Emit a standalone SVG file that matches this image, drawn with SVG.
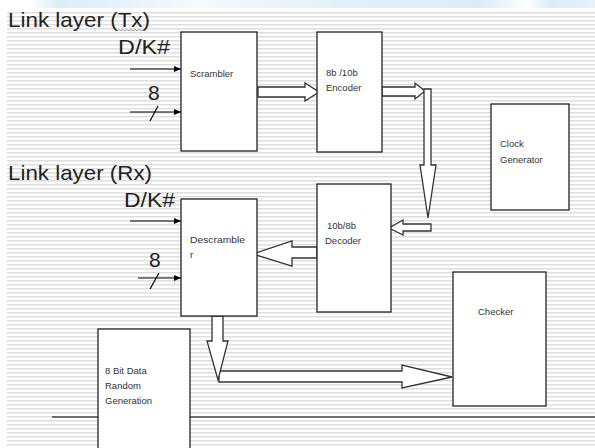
<svg xmlns="http://www.w3.org/2000/svg" width="595" height="448" viewBox="0 0 595 448">
<defs>
<pattern id="rules" width="4" height="4" patternUnits="userSpaceOnUse">
<rect x="0" y="0" width="4" height="1.5" fill="#dedede"/>
</pattern>
<linearGradient id="band" x1="0" y1="0" x2="1" y2="0">
<stop offset="0" stop-color="#ffffff"/>
<stop offset="0.05" stop-color="#dcecf7"/>
<stop offset="0.15" stop-color="#e6f1f9"/>
<stop offset="0.3" stop-color="#f6fafd"/>
<stop offset="0.55" stop-color="#e3eff8"/>
<stop offset="0.8" stop-color="#dcecf7"/>
<stop offset="0.88" stop-color="#ffffff"/>
<stop offset="0.92" stop-color="#dcecf7"/>
<stop offset="1" stop-color="#e6f1f9"/>
</linearGradient>
<marker id="ah" markerWidth="8" markerHeight="8" refX="7" refY="4" orient="auto" markerUnits="userSpaceOnUse">
<path d="M0,1 L7,4 L0,7 z" fill="#000"/>
</marker>
<style>
.box{fill:#fff;stroke:#222;stroke-width:1.3}
.blk{fill:#fff;stroke:#333;stroke-width:1.3;stroke-linejoin:miter}
.big{font-family:"Liberation Sans",Arial,sans-serif;font-size:21px;fill:#222}
.lbl{font-family:"Liberation Sans",Arial,sans-serif;font-size:9.5px;fill:#333}
.in{stroke:#000;stroke-width:1.2;fill:none}
</style>
</defs>
<rect x="0" y="0" width="595" height="448" fill="#fff"/>
<rect x="30" y="0" width="565" height="8" fill="url(#band)"/>
<rect x="7" y="11" width="588" height="437" fill="url(#rules)"/>

<line x1="52" y1="417" x2="595" y2="417" stroke="#444" stroke-width="1.3"/>

<g id="labels-tx">
<text class="big" x="8" y="27" textLength="142" lengthAdjust="spacingAndGlyphs">Link layer (Tx)</text>
<path d="M117,31 l2,-1.5 l2,1.5 l2,-1.5 l2,1.5 l2,-1.5 l2,1.5 l2,-1.5 l2,1.5 l2,-1.5 l2,1.5 l2,-1.5 l2,1.5 l2,-1.5 l2,1.5" fill="none" stroke="#8a8a9a" stroke-width="0.8"/>
<text class="big" x="118" y="54" textLength="52" lengthAdjust="spacingAndGlyphs">D/K#</text>
<text class="big" x="148" y="100">8</text>
</g>
<g id="labels-rx">
<text class="big" x="8" y="180" textLength="144" lengthAdjust="spacingAndGlyphs">Link layer (Rx)</text>
<text class="big" x="124" y="207" textLength="51" lengthAdjust="spacingAndGlyphs">D/K#</text>
<text class="big" x="149" y="267">8</text>
</g>

<g id="connectors">
<line class="in" x1="130" y1="69" x2="181" y2="69" marker-end="url(#ah)"/>
<line class="in" x1="130" y1="112" x2="181" y2="112" marker-end="url(#ah)"/>
<line class="in" x1="150" y1="121" x2="158" y2="106"/>
<line class="in" x1="130" y1="221" x2="181" y2="221" marker-end="url(#ah)"/>
<line class="in" x1="138" y1="278" x2="181" y2="278" marker-end="url(#ah)"/>
<line class="in" x1="150" y1="289" x2="159" y2="273"/>
<polygon class="blk" points="258,87 305,87 305,83 319,92 305,101 305,97 258,97"/>
<polygon class="blk" points="382,87 415,87 415,83 425,91 415,99 415,96 382,96"/>
<polygon class="blk" points="424,89 431,89 431,165 436,165 428,218 420,165 424,165"/>
<polygon class="blk" points="431,224 431,231 403,231 403,235 389,228 403,220 403,224"/>
<polygon class="blk" points="317,247 317,258 292,258 292,266 253,254 292,241 292,247"/>
<polygon class="blk" points="219,371 402,371 402,365 452,377 402,388 402,382 219,382"/>
<polygon class="blk" points="212,316 223,316 223,341 228,341 218,380 207,341 212,341"/>
</g>

<g id="scrambler">
<rect class="box" x="181" y="32" width="76" height="119"/>
<text class="lbl" x="190" y="77">Scrambler</text>
</g>
<g id="encoder">
<rect class="box" x="317" y="32" width="65" height="120"/>
<text class="lbl" x="326" y="76">8b /10b</text>
<text class="lbl" x="326" y="91">Encoder</text>
</g>
<g id="clock">
<rect class="box" x="491" y="104" width="78" height="106"/>
<text class="lbl" x="500" y="147">Clock</text>
<text class="lbl" x="500" y="163">Generator</text>
</g>
<g id="decoder">
<rect class="box" x="317" y="184" width="74" height="128"/>
<text class="lbl" x="327" y="229">10b/8b</text>
<text class="lbl" x="325" y="244">Decoder</text>
</g>
<g id="descrambler">
<rect class="box" x="181" y="199" width="76" height="117"/>
<text class="lbl" x="190" y="243" textLength="55" lengthAdjust="spacingAndGlyphs">Descramble</text>
<text class="lbl" x="190" y="258">r</text>
</g>
<g id="checker">
<rect class="box" x="453" y="272" width="93" height="134"/>
<text class="lbl" x="478" y="315">Checker</text>
</g>
<g id="random">
<rect class="box" x="98" y="329" width="92" height="130"/>
<text class="lbl" x="105" y="374">8 Bit Data</text>
<text class="lbl" x="105" y="389">Random</text>
<text class="lbl" x="105" y="404">Generation</text>
</g>
</svg>
